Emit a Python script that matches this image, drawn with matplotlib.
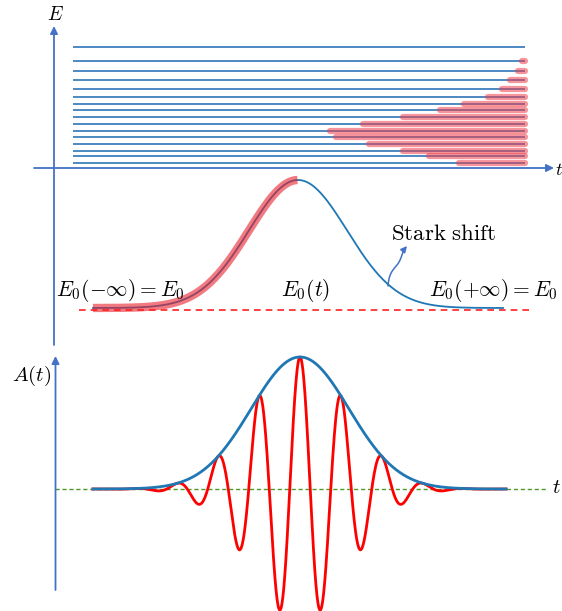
import numpy as np
import matplotlib
matplotlib.use("Agg")
import matplotlib.pyplot as plt
from matplotlib.path import Path
from matplotlib.patches import FancyArrowPatch

plt.rcParams["mathtext.fontset"] = "cm"

# ---- energy ladder (top): level heights and where the red occupation bar starts
level_y = [46.7, 61.0, 71.3, 80.3, 89.3, 97.3, 104.0, 110.3, 117.0, 123.7,
           130.7, 137.3, 144.3, 150.7, 156.0, 162.7]
bar_start = [None, 521.5, 518.3, 510.0, 502.3, 488.3, 464.3, 440.0, 403.3,
             362.7, 330.0, 335.7, 369.3, 403.3, 429.3, 459.3]
level_x = (73, 525)

# ---- Stark-shifted level E0(t) (middle)
stark_t = (93, 503)
stark_center = 298
stark_sigma = 49
stark_base = 308
stark_top = 180

# ---- laser pulse A(t) (bottom)
pulse_t = (93, 506)
pulse_center = 300
pulse_sigma = 49
pulse_base = 489
pulse_top = 357
carrier_period = 41

AXIS = "#4472c4"
LEVEL = "#2e74b5"
ENV = "#1f77b4"

fig = plt.figure(figsize=(5.62, 6.11), dpi=100)
ax = fig.add_axes([0, 0, 1, 1])
ax.set_xlim(0, 562)
ax.set_ylim(611, 0)
ax.axis("off")


def arrow(x0, y0, x1, y1, **kw):
    ax.annotate("", xy=(x1, y1), xytext=(x0, y0),
                arrowprops=dict(arrowstyle="-|>", color=AXIS, lw=1.3,
                                mutation_scale=11, shrinkA=0, shrinkB=0, **kw))


# axes of the level diagram
arrow(54, 345, 54, 26)
arrow(34, 168, 554, 168)
ax.text(55, 14, r"$E$", fontsize=14, ha="center", va="center")
ax.text(555, 170, r"$t$", fontsize=13, ha="left", va="center")

# levels, with the populated part in red on top
for y, xs in zip(level_y, bar_start):
    ax.plot(level_x, [y, y], color=LEVEL, lw=1.2, solid_capstyle="butt")
    if xs is not None:
        ax.plot([xs, level_x[1]], [y, y], color="#f0404c", lw=4.5, alpha=0.55,
                solid_capstyle="round")

# Stark shift of the ground level
ts = np.linspace(*stark_t, 400)
e0 = stark_base - (stark_base - stark_top) * np.exp(-(ts - stark_center) ** 2 / (2 * stark_sigma ** 2))
ax.plot(ts, e0, color=ENV, lw=1.3)
rise = ts <= stark_center
ax.plot(ts[rise], e0[rise], color="#e8212e", lw=6, alpha=0.6, solid_capstyle="butt")
ax.plot([79, 530], [310, 310], color="#ff2020", lw=1.2, ls=(0, (4, 3)))

ax.text(120, 291, r"$E_0(-\infty) = E_0$", fontsize=15.5, ha="center", va="center")
ax.text(306, 291, r"$E_0(t)$", fontsize=15.5, ha="center", va="center")
ax.text(493, 291, r"$E_0(+\infty) = E_0$", fontsize=15.5, ha="center", va="center")
ax.text(444, 233, r"$\mathrm{Stark\ shift}$", fontsize=16.5, ha="center", va="center")

# small wavy pointer from the falling edge up to the label
wiggle = Path([(388, 286), (389, 270), (396, 268), (399, 262),
               (402, 257), (402, 252), (407, 246)],
              [Path.MOVETO, Path.CURVE4, Path.CURVE4, Path.CURVE4,
               Path.CURVE4, Path.CURVE4, Path.CURVE4])
ax.add_patch(FancyArrowPatch(path=wiggle, arrowstyle="-|>", color=AXIS, lw=1.1,
                             mutation_scale=9))

# pulse envelope and carrier
arrow(55.5, 590, 55.5, 356)
ax.text(32, 376, r"$A(t)$", fontsize=15, ha="center", va="center")
ax.plot([55, 547], [pulse_base, pulse_base], color="#4c9a2a", lw=1.0, ls=(0, (3, 2)))
ax.text(552, 487, r"$t$", fontsize=15, ha="left", va="center")

tp = np.linspace(*pulse_t, 1500)
env = (pulse_base - pulse_top) * np.exp(-(tp - pulse_center) ** 2 / (2 * pulse_sigma ** 2))
field = env * np.cos(2 * np.pi * (tp - pulse_center) / carrier_period)
ax.plot(tp, pulse_base - field, color="#ff0000", lw=2.0)
ax.plot(tp, pulse_base - env, color=ENV, lw=2.0)

fig.savefig("out.png", dpi=100)
